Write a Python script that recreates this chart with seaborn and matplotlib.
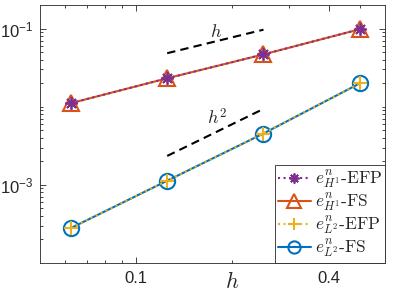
import matplotlib
matplotlib.use("Agg")
import matplotlib.pyplot as plt
import numpy as np
import seaborn as sns
from matplotlib.font_manager import FontProperties

# mesh sizes and errors
h = np.array([1/16, 1/8, 1/4, 1/2])
err_h1_efp = np.array([0.0111, 0.0231, 0.0467, 0.098])
err_h1_fs = np.array([0.0111, 0.0231, 0.0467, 0.098])
err_l2_efp = np.array([0.00028, 0.00113, 0.00454, 0.0199])
err_l2_fs = np.array([0.00028, 0.00113, 0.00454, 0.0199])

# reference slopes
ref_h = np.array([0.125, 0.25])
ref_order1 = 0.387 * ref_h
ref_order2 = 0.15 * ref_h**2

labels = [r'$e^n_{H^1}\text{-EFP}$', r'$e^n_{H^1}\text{-FS}$',
          r'$e^n_{L^2}\text{-EFP}$', r'$e^n_{L^2}\text{-FS}$']

sns.set_style('ticks')
plt.rcParams['font.family'] = ['Liberation Sans', 'DejaVu Sans']
plt.rcParams['mathtext.fontset'] = 'custom'
plt.rcParams['mathtext.rm'] = 'Liberation Sans'
plt.rcParams['mathtext.it'] = 'Liberation Sans:italic'

blue, orange, yellow, purple = '#0072BD', '#D95319', '#EDB120', '#7E2F8E'

fig = plt.figure(figsize=(3.95, 2.96), dpi=100)
ax = fig.add_axes([0.101, 0.1115, 0.874, 0.8715])

# FS first, EFP on top
l_h1_fs = sns.lineplot(x=h, y=err_h1_fs, ax=ax, color=orange, lw=1.5, marker='^',
                       ms=12, mfc='none', mec=orange, mew=1.5).lines[-1]
l_h1_efp = sns.lineplot(x=h, y=err_h1_efp, ax=ax, color=purple, lw=1.5, ls=':',
                        marker=(8, 2, 0), ms=9, mec=purple, mew=1.3).lines[-1]
l_l2_fs = sns.lineplot(x=h, y=err_l2_fs, ax=ax, color=blue, lw=1.5, marker='o',
                       ms=11, mfc='none', mec=blue, mew=1.5).lines[-1]
l_l2_efp = sns.lineplot(x=h, y=err_l2_efp, ax=ax, color=yellow, lw=1.5, ls=':',
                        marker='+', ms=10, mec=yellow, mew=1.5).lines[-1]

sns.lineplot(x=ref_h, y=ref_order1, ax=ax, color='k', lw=1.5, ls=(0, (4, 2.5)))
sns.lineplot(x=ref_h, y=ref_order2, ax=ax, color='k', lw=1.5, ls=(0, (4, 2.5)))
ax.text(0.178, 0.089, r'$h$', fontsize=13, ha='center', va='center', math_fontfamily='cm')
ax.text(0.179, 0.0071, r'$h^2$', fontsize=13, ha='center', va='center', math_fontfamily='cm')

ax.set_xscale('log')
ax.set_yscale('log')
ax.set_xlim(0.05, 0.6)
ax.set_ylim(1e-4, 0.2)
ax.set_xticks([0.1, 0.4])
ax.set_xticklabels(['0.1', '0.4'])
ax.set_xticks([0.06, 0.07, 0.08, 0.09, 0.2, 0.3, 0.5], minor=True)
ax.set_xticklabels([], minor=True)
ax.set_yticks([1e-3, 1e-1])
ax.set_yticklabels([r'$10^{-3}$', r'$10^{-1}$'])
yminor = [m * 10.0**k for k in range(-4, 0) for m in range(1, 10) if not (m == 1 and k in (-3, -1))]
ax.set_yticks([v for v in yminor if 1e-4 < v < 0.2], minor=True)
ax.set_yticklabels([], minor=True)
ax.tick_params(which='both', direction='in', top=True, right=True, labelsize=12,
               color='#262626', width=0.6)
ax.tick_params(axis='x', which='major', pad=6)
ax.tick_params(axis='y', which='major', pad=5)
ax.tick_params(which='major', length=4)
ax.tick_params(which='minor', length=2.5)
for s in ax.spines.values():
    s.set_color('#262626')
    s.set_linewidth(0.6)
ax.set_xlabel(r'$h$', fontsize=16, math_fontfamily='cm', va='center')
ax.xaxis.set_label_coords(0.557, -0.074)
ax.set_ylabel('')

leg = ax.legend([l_h1_efp, l_h1_fs, l_l2_efp, l_l2_fs], labels, loc='lower right',
                borderaxespad=0, fancybox=False, framealpha=1, edgecolor='#262626',
                prop=FontProperties(size=12.5, math_fontfamily='cm'), markerscale=0.8,
                handlelength=1.9, handletextpad=0.25, labelspacing=0.0, borderpad=0.15)
leg.get_frame().set_linewidth(0.6)

fig.savefig('out.png', dpi=100)
